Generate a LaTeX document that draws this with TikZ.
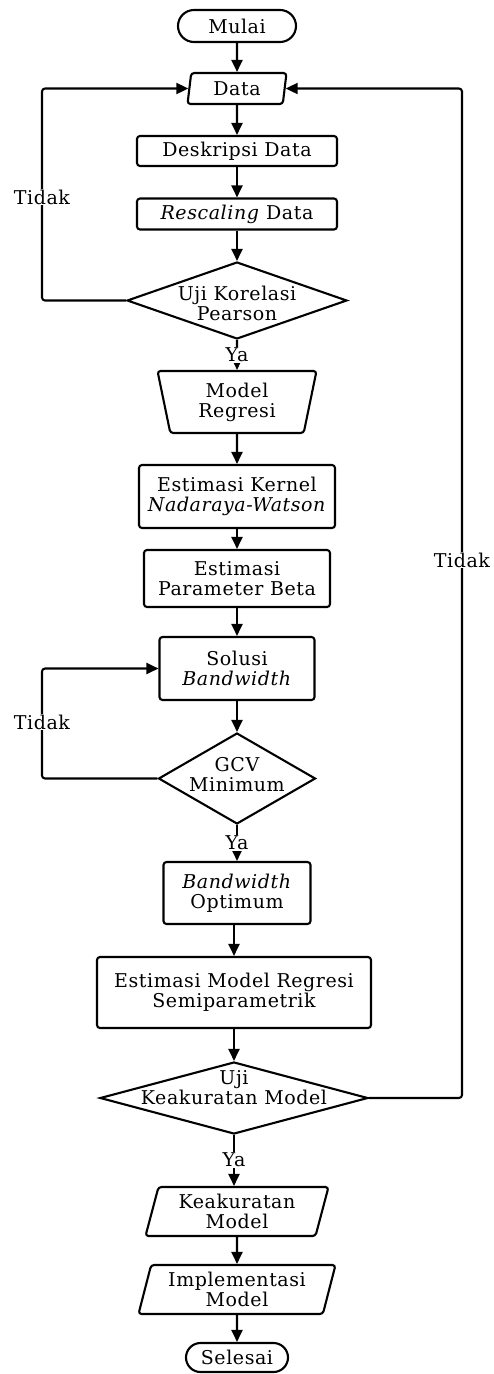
\documentclass[tikz,border=0pt]{standalone}
\usepackage{fontspec}
\setmainfont{DejaVu Serif}[LetterSpace=3]
\usetikzlibrary{shapes.geometric,shapes.misc,arrows.meta}
\begin{document}
\begin{tikzpicture}[x=1pt,y=-1pt,
  every node/.style={font=\fontsize{19}{20}\selectfont, align=center, inner sep=1pt},
  ln/.style={line width=2.1pt, line join=round},
  arr/.style={ln, -{Triangle[length=12pt,width=11pt]}},
  loopline/.style={arr, rounded corners=3pt},
  term/.style={rounded rectangle, draw, line width=2.1pt},
  proc/.style={rectangle, draw, rounded corners=3pt, line width=2.1pt},
  iobox/.style 2 args={trapezium, draw, rounded corners=3pt, line width=2.1pt,
     trapezium stretches body, trapezium left angle=#1, trapezium right angle=#2},
  manual/.style={trapezium, draw, rounded corners=3pt, line width=2.1pt,
     trapezium stretches body, shape border rotate=180,
     trapezium left angle=72.5, trapezium right angle=72.5},
  dec/.style={diamond, draw, line width=2.1pt, inner sep=0pt},
  lbl/.style={fill=white, inner sep=1pt}
]
\useasboundingbox (0,0) rectangle (494,1374);

\node[term, minimum width=120, minimum height=32] (mulai) at (237,26) {Mulai};
\node[iobox={77}{103}, minimum width=99, minimum height=31] (data) at (237,88.5) {Data};
\node[proc, minimum width=200, minimum height=30] (desk) at (237,151) {Deskripsi Data};
\node[proc, minimum width=200, minimum height=31] (resc) at (237,214) {\textit{Rescaling} Data};
\node[dec, minimum width=220, minimum height=77] (uji1) at (237,300.5) {};
\node (uji1t) at (237,303) {Uji Korelasi\\Pearson};
\node[manual, minimum width=159, minimum height=62] (model) at (237,402) {Model\\Regresi};
\node[proc, minimum width=196, minimum height=63] (kernel) at (237,496.5) {Estimasi Kernel\\\textit{Nadaraya-Watson}};
\node[proc, minimum width=186, minimum height=57] (beta) at (237,578.5) {Estimasi\\Parameter Beta};
\node[proc, minimum width=155, minimum height=63] (solusi) at (237,668.5) {Solusi\\\textit{Bandwidth}};
\node[dec, minimum width=157, minimum height=91] (gcv) at (237,778.5) {};
\node (gcvt) at (237,775) {GCV\\Minimum};
\node[proc, minimum width=147, minimum height=62] (bwopt) at (237,893) {\textit{Bandwidth}\\Optimum};
\node[proc, minimum width=274, minimum height=71] (semi) at (234,992.5) {Estimasi Model Regresi\\Semiparametrik};
\node[dec, minimum width=268, minimum height=72] (uji2) at (234,1098) {};
\node (uji2t) at (234,1088) {Uji\\Keakuratan Model};
\node[iobox={70.5}{109.5}, minimum width=183, minimum height=49] (akur) at (237,1211.5) {Keakuratan\\Model};
\node[iobox={71}{109}, minimum width=197, minimum height=49] (impl) at (237,1289.5) {Implementasi\\Model};
\node[term, minimum width=104, minimum height=29] (selesai) at (237,1357.5) {Selesai};

\coordinate (lx) at (42,0);
\coordinate (rx) at (462,0);

\draw[arr] (mulai) -- (data);
\draw[arr] (data) -- (desk);
\draw[arr] (desk) -- (resc);
\draw[arr] (resc) -- (uji1);
\draw[arr] (uji1) -- (model);
\draw[arr] (model) -- (kernel);
\draw[arr] (kernel) -- (beta);
\draw[arr] (beta) -- (solusi);
\draw[arr] (solusi) -- (gcv);
\draw[arr] (gcv) -- (bwopt);
\draw[arr] (bwopt.south -| semi.north) -- (semi.north);
\draw[arr] (semi) -- (uji2);
\draw[arr] (uji2.south) -- (uji2.south |- akur.north);
\draw[arr] (akur) -- (impl);
\draw[arr] (impl) -- (selesai);

\draw[loopline] (uji1.west) -- (uji1.west -| lx) -- (data.west -| lx) -- (data.west);
\draw[loopline] (gcv.west) -- (gcv.west -| lx) -- (solusi.west -| lx) -- (solusi.west);
\draw[loopline] (uji2.east) -- (uji2.east -| rx) -- (data.east -| rx) -- (data.east);

\node[lbl] (t1) at (42,197) {Tidak};
\node[lbl] (t2) at (42,722) {Tidak};
\node[lbl] (t3) at (462,560) {Tidak};
\node[lbl] (y1) at (237,355) {Ya};
\node[lbl] (y2) at (237,843) {Ya};
\node[lbl] (y3) at (234,1160) {Ya};
\end{tikzpicture}
\end{document}
